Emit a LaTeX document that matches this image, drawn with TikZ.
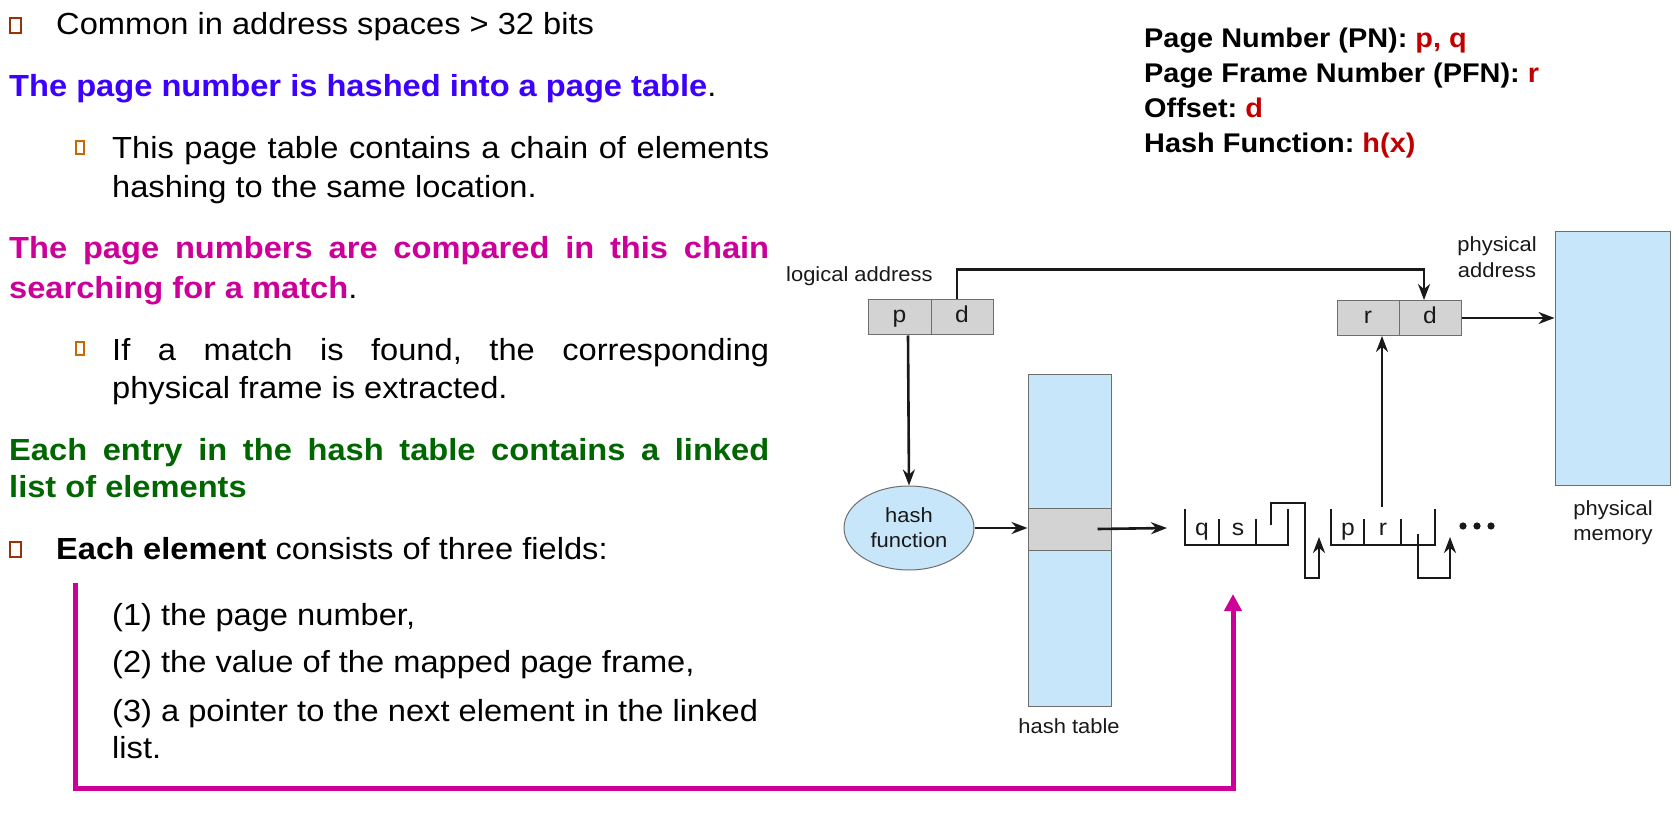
\documentclass[tikz,border=0pt]{standalone}
\usepackage{fontspec}
\setmainfont{Liberation Sans}[FakeStretch=1.07]
\usetikzlibrary{arrows.meta,shapes.geometric}
\definecolor{cblue}{RGB}{60,0,255}
\definecolor{cmag}{RGB}{204,0,153}
\definecolor{cgreen}{RGB}{0,102,0}
\definecolor{cred}{RGB}{192,0,0}
\definecolor{bulA}{RGB}{153,51,0}
\definecolor{bulB}{RGB}{204,102,0}
\definecolor{paleblue}{RGB}{200,230,250}
\definecolor{cellgray}{RGB}{211,211,211}
\definecolor{edgegray}{RGB}{110,110,110}
\definecolor{ink}{RGB}{25,25,25}
\frenchspacing

\begin{document}
\begin{tikzpicture}[x=1pt,y=-1pt,
  body/.style={anchor=base west, inner sep=0pt, font=\fontsize{30.5}{37}\selectfont},
  legend/.style={anchor=base west, inner sep=0pt, font=\fontsize{27}{33}\selectfont\bfseries},
  lab/.style={anchor=base, inner sep=0pt, text=ink, font=\fontsize{20.5}{24}\selectfont},
  chainlab/.style={anchor=base, inner sep=0pt, text=ink, font=\fontsize{23}{24}\selectfont},
  bulletA/.style={draw=bulA, line width=2.2pt, minimum width=11pt, minimum height=15pt, inner sep=0pt},
  bulletB/.style={draw=bulB, line width=1.8pt, minimum width=8.2pt, minimum height=13.2pt, inner sep=0pt},
  cell/.style={draw=edgegray, line width=1pt, fill=cellgray, minimum height=35pt, inner sep=0pt,
    text height=15pt, text depth=4pt, text=ink, font=\fontsize{23}{24}\selectfont},
  store/.style={draw=edgegray, line width=1pt, fill=paleblue, inner sep=0pt},
  wire/.style={draw=ink, line width=2.6pt},
  arr/.style={wire, -{Stealth[length=16pt,width=12pt]}},
  magline/.style={draw=cmag, line width=5pt, line join=miter, -{Triangle[length=17pt,width=17pt]}}
]
\useasboundingbox (0,0) rectangle (1679,826);
\fill[white] (0,0) rectangle (1679,826);

% ---------- bullet text ----------
\node[bulletA] (b1) at (15.5,25.5) {};
\node[body] (t1) at (56,35) {Common in address spaces > 32 bits};
\node[body] (t2) at (9,97)
  {\textcolor{cblue}{\bfseries The page number is hashed into a page table}.};
\node[bulletB] (b2) at (80,147.5) {};
\node[body] (t3) at (112,159) {\makebox[657pt][s]{This page table contains a chain of elements}};
\node[body] (t4) at (112,198) {hashing to the same location.};
\node[body, font=\fontsize{30.5}{37}\selectfont\bfseries] (t5) at (9,259)
  {\color{cmag}\makebox[760pt][s]{The page numbers are compared in this chain}};
\node[body] (t6) at (9,299)
  {\textcolor{cmag}{\bfseries searching for a match}.};
\node[bulletB] (b3) at (80,348.5) {};
\node[body] (t7) at (112,360) {\makebox[657pt][s]{If a match is found, the corresponding}};
\node[body] (t8) at (112,398) {physical frame is extracted.};
\node[body, font=\fontsize{30.5}{37}\selectfont\bfseries] (t9) at (9,460)
  {\color{cgreen}\makebox[760pt][s]{Each entry in the hash table contains a linked}};
\node[body, font=\fontsize{30.5}{37}\selectfont\bfseries] (t10) at (9,497)
  {\color{cgreen}list of elements};
\node[bulletA] (b4) at (15.5,549.5) {};
\node[body] (t11) at (56,559) {\textbf{Each element} consists of three fields:};
\node[body] (t12) at (112,625) {(1) the page number,};
\node[body] (t13) at (112,672) {(2) the value of the mapped page frame,};
\node[body] (t14) at (112,721) {(3) a pointer to the next element in the linked};
\node[body] (t15) at (112,758) {list.};

% ---------- legend ----------
\node[legend] (g1) at (1144,48) {Page Number (PN): \textcolor{cred}{p, q}};
\node[legend] (g2) at (1144,83) {Page Frame Number (PFN): \textcolor{cred}{r}};
\node[legend] (g3) at (1144,118) {Offset: \textcolor{cred}{d}};
\node[legend] (g4) at (1144,153) {Hash Function: \textcolor{cred}{h(x)}};

% ---------- address registers ----------
\node[lab, anchor=base west] (lalab) at (786,282) {logical address};
\node[cell, minimum width=63pt] (lp) at (899.5,317.5) {p};
\node[cell, minimum width=62pt] (ld) at (962,317.5) {d};

\node[lab] (pa1) at (1497,252) {physical};
\node[lab] (pa2) at (1497,278) {address};
\node[cell, minimum width=62pt] (pr) at (1368,318) {r};
\node[cell, minimum width=62pt] (pd) at (1430,318) {d};

% ---------- physical memory ----------
\node[store, minimum width=115pt, minimum height=253pt] (mem) at (1612.5,358.5) {};
\node[lab] (pm1) at (1613,515) {physical};
\node[lab] (pm2) at (1613,540) {memory};

% ---------- hash function and table ----------
\node[store, ellipse, minimum width=130pt, minimum height=84pt, align=center,
  text=ink, font=\fontsize{20.5}{25}\selectfont] (hf) at (909,528) {hash\\function};
\node[store, minimum width=83pt, minimum height=332pt] (ht) at (1069.5,540) {};
\node[draw=edgegray, line width=1pt, fill=cellgray, minimum width=83pt, minimum height=42pt,
  inner sep=0pt] (slot) at (1069.5,529) {};
\node[lab] (htlab) at (1069,733) {hash table};

% ---------- chain of elements ----------
\coordinate (chainin) at (1167,528);
\draw[wire] (1185,509) -- (1185,545) -- (1288,545) -- (1288,509);
\draw[wire] (1219,519) -- (1219,545);
\draw[wire] (1256,519) -- (1256,545);
\node[chainlab] (cq) at (1202,535) {q};
\node[chainlab] (cs) at (1238,535) {s};
\coordinate (next1) at (1319,537);
\draw[arr] (1271,525) -- (1271,503) -- (1305,503) -- (1305,578) -- (1319,578) -- (next1);

\draw[wire] (1331,509) -- (1331,545) -- (1435,545) -- (1435,509);
\draw[wire] (1364,519) -- (1364,545);
\draw[wire] (1401,519) -- (1401,545);
\node[chainlab] (cp) at (1348,535) {p};
\node[chainlab] (cr) at (1383,535) {r};
\coordinate (rtap) at (1382,507);
\coordinate (next2) at (1450,537);
\draw[arr] (1418,534) -- (1418,578) -- (1450,578) -- (next2);
\foreach \dx in {1463,1477,1491} \fill[ink] (\dx,526) circle (3.6pt);

% ---------- connectors ----------
\draw[arr] ([xshift=-5pt]ld.north) -- ++(0,-30) -| ([xshift=-6pt]pd.north);
\draw[arr] (pd.east) -- (mem.west |- pd.east);
\draw[arr] (lp.south -| 908,0) -- (hf.north);
\draw[arr] (hf.east) -- (ht.west |- hf.east);
\draw[arr] ([xshift=-14pt]slot.east) -- (chainin);
\draw[arr] (rtap) -- (rtap |- pr.south);

% ---------- highlight bracket ----------
\coordinate (mgA) at (75,583);
\coordinate (mgB) at (1233,594);
\draw[magline] (mgA) -- (75,788) -- (1233,788) -- (mgB);
\end{tikzpicture}
\end{document}
